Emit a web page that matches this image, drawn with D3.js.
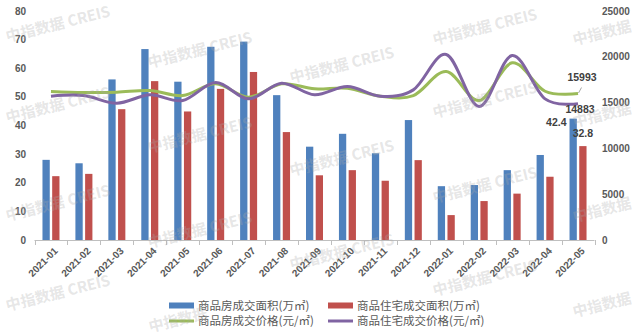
<!DOCTYPE html>
<html><head><meta charset="utf-8">
<script src="https://cdn.jsdelivr.net/npm/d3@7/dist/d3.min.js"></script>
<style>
html,body{margin:0;padding:0;background:#fff;}
svg{display:block;}
</style></head>
<body>
<svg id="chart" width="641" height="335"></svg>
<script>
const months = ["2021-01","2021-02","2021-03","2021-04","2021-05","2021-06","2021-07","2021-08","2021-09","2021-10","2021-11","2021-12","2022-01","2022-02","2022-03","2022-04","2022-05"];
const areaAll = [28.0, 26.8, 56.1, 66.7, 55.3, 67.5, 69.3, 50.6, 32.6, 37.1, 30.3, 41.9, 18.8, 19.2, 24.4, 29.7, 42.4];
const areaRes = [22.3, 23.1, 45.7, 55.5, 44.9, 52.8, 58.7, 37.7, 22.6, 24.4, 20.7, 27.9, 8.7, 13.6, 16.2, 22.1, 32.8];
const priceAll = [16210, 16100, 16130, 16320, 15770, 17050, 15590, 17050, 16500, 16570, 15700, 15770, 18400, 15230, 19340, 16240, 15993];
const priceRes = [15700, 15770, 14930, 15850, 15230, 17190, 15410, 17120, 15850, 16760, 15700, 16390, 20250, 14570, 20140, 15410, 14883];
const leftTicks = [0, 10, 20, 30, 40, 50, 60, 70, 80];
const rightTicks = [0, 5000, 10000, 15000, 20000, 25000];
const seriesNames = ["商品房成交面积(万㎡)", "商品住宅成交面积(万㎡)", "商品房成交价格(元/㎡)", "商品住宅成交价格(元/㎡)"];
const colors = ["#4F81BD", "#C0504D", "#9BBB59", "#8064A2"];
const watermarkFull = "中指数据 CREIS";
const watermarkShort = "中指数据";

const svg = d3.select("#chart");
const numFont = "'Liberation Sans', Arial, sans-serif";
const cjkFont = "'Noto Sans CJK SC', sans-serif";
const gray = "#595959";

const x = d3.scaleBand().domain(months).range([34.5, 594.5]).padding(0);
const sub = d3.scaleBand().domain(["all","res"]).range([-8.5, 8.5]).paddingInner(0.25);
const yL = d3.scaleLinear().domain([0, 80]).range([240, 11]);
const yR = d3.scaleLinear().domain([0, 25000]).range([240, 11]);
const cx = m => x(m) + x.bandwidth() / 2;

// Left axis labels
svg.append("g").selectAll("text").data(leftTicks).join("text")
  .attr("x", 26).attr("y", d => yL(d)).attr("dy", "0.35em")
  .attr("text-anchor", "end").attr("font-family", numFont).attr("font-size", 10)
  .attr("font-weight", "bold").attr("fill", gray).text(d => d);

// Right axis labels
svg.append("g").selectAll("text").data(rightTicks).join("text")
  .attr("x", 602).attr("y", d => yR(d)).attr("dy", "0.35em")
  .attr("text-anchor", "start").attr("font-family", numFont).attr("font-size", 10)
  .attr("font-weight", "bold").attr("fill", gray).text(d => d);

// X axis
const xAxis = d3.axisBottom(x).tickSize(0).tickFormat("");
const gx = svg.append("g").attr("transform", "translate(0,240)").call(xAxis);
gx.select(".domain").attr("stroke", "#bfbfbf").attr("d", "M34.5,0.5H594.5");
const bounds = months.map(m => x(m)).concat([x(months[months.length-1]) + x.bandwidth()]);
svg.append("g").selectAll("line").data(bounds).join("line")
  .attr("x1", d => Math.round(d) + 0.5).attr("x2", d => Math.round(d) + 0.5)
  .attr("y1", 240).attr("y2", 245).attr("stroke", "#bfbfbf");

svg.append("g").selectAll("text").data(months).join("text")
  .attr("transform", d => `translate(${cx(d) + 5},${249}) rotate(-45)`)
  .attr("text-anchor", "end").attr("font-family", numFont).attr("font-size", 10)
  .attr("font-weight", "bold").attr("fill", gray).attr("dy", "0.35em").text(d => d);

// Bars
const barG = svg.append("g");
barG.selectAll("rect.a").data(months).join("rect").attr("class", "a")
  .attr("x", (d) => cx(d) + sub("all")).attr("width", sub.bandwidth())
  .attr("y", (d, i) => yL(areaAll[i])).attr("height", (d, i) => yL(0) - yL(areaAll[i]))
  .attr("fill", colors[0]);
barG.selectAll("rect.r").data(months).join("rect").attr("class", "r")
  .attr("x", (d) => cx(d) + sub("res")).attr("width", sub.bandwidth())
  .attr("y", (d, i) => yL(areaRes[i])).attr("height", (d, i) => yL(0) - yL(areaRes[i]))
  .attr("fill", colors[1]);

// Lines
const line = d3.line().x((d, i) => cx(months[i])).y(d => yR(d)).curve(d3.curveCardinal.tension(0));
svg.append("path").attr("d", line(priceAll)).attr("fill", "none").attr("stroke", colors[2]).attr("stroke-width", 3);
svg.append("path").attr("d", line(priceRes)).attr("fill", "none").attr("stroke", colors[3]).attr("stroke-width", 3);

// Data labels for last month
const last = months.length - 1;
const lm = months[last];
const lab = (tx, ty, anchor, txt) => svg.append("text").attr("x", tx).attr("y", ty).attr("dy", "0.35em")
  .attr("text-anchor", anchor).attr("font-family", numFont).attr("font-size", 10.5)
  .attr("font-weight", "bold").attr("fill", "#404040").text(txt);
lab(cx(lm) + sub("all") - 3, yL(areaAll[last]) + 3.5, "end", areaAll[last]);
lab(cx(lm) + sub("res") + sub.bandwidth() / 2, yL(areaRes[last]) - 13, "middle", areaRes[last]);
lab(cx(lm) + 4, yR(priceAll[last]) - 16.5, "middle", priceAll[last]);
lab(cx(lm) + 2, yR(priceRes[last]) + 5.5, "middle", priceRes[last]);
svg.append("line").attr("x1", cx(lm) + 3.5).attr("y1", yR(priceAll[last]) - 6)
  .attr("x2", cx(lm) + 0.5).attr("y2", yR(priceAll[last]) - 0.5).attr("stroke", "#a6a6a6").attr("stroke-width", 1);

// Legend
const legend = svg.append("g");
const legPos = [[169, 305.5], [328, 305.5], [169, 321], [328, 321]];
seriesNames.forEach((name, i) => {
  const [lx, ly] = legPos[i];
  if (i < 2) {
    legend.append("rect").attr("x", lx).attr("y", ly - 3).attr("width", 25).attr("height", 6).attr("fill", colors[i]);
  } else {
    legend.append("line").attr("x1", lx).attr("x2", lx + 25).attr("y1", ly).attr("y2", ly)
      .attr("stroke", colors[i]).attr("stroke-width", 3);
  }
  legend.append("text").attr("x", lx + 29).attr("y", ly).attr("dy", "0.36em")
    .attr("font-family", cjkFont).attr("font-size", 11.5).attr("fill", gray).text(name);
});

// Watermarks
const wmPos = [[58,24,1],[58,105,1],[58,203,1],[58,293,1],[200,50,1],[200,135,1],[200,230,1],[178,320,0],
               [342,65,1],[342,158,1],[342,252,1],[485,27,1],[485,100,1],[485,185,1],[485,278,1],
               [602,33,0],[602,115,0],[602,210,0],[602,305,0]];
svg.append("g").selectAll("text").data(wmPos).join("text")
  .attr("transform", d => `translate(${d[0]},${d[1]}) rotate(-14)`)
  .attr("text-anchor", "middle").attr("dy", "0.35em")
  .attr("font-family", cjkFont).attr("font-size", 15).attr("font-weight", "bold")
  .attr("fill", "rgba(170,170,170,0.3)").text(d => d[2] ? watermarkFull : watermarkShort);
</script>
</body></html>
